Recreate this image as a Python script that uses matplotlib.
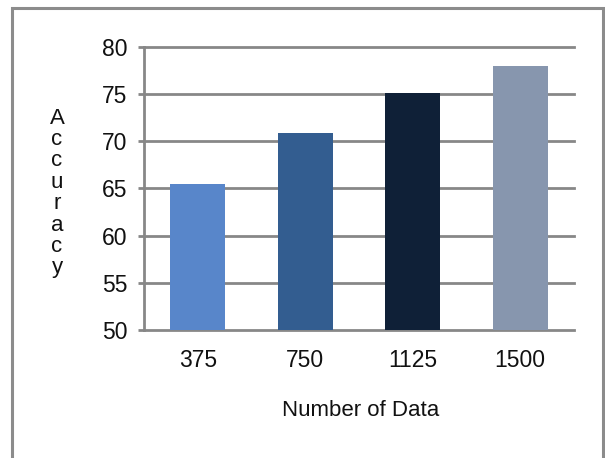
import matplotlib
matplotlib.use("Agg")
import matplotlib.pyplot as plt
from matplotlib.patches import Rectangle

categories = ["375", "750", "1125", "1500"]
accuracy = [65.5, 70.9, 75.1, 78.0]
bar_colors = ["#5886CA", "#335D90", "#0F2037", "#8796AE"]
y_ticks = [50, 55, 60, 65, 70, 75, 80]
y_label = "Accuracy"
x_label = "Number of Data"

plt.rcParams["font.family"] = ["Liberation Sans", "DejaVu Sans"]
GRID = "#878787"

fig = plt.figure(figsize=(6.05, 4.58), dpi=100)
ax = fig.add_axes([144 / 605, 1 - 330 / 458, 430 / 605, (330 - 46.7) / 458])

x = range(len(categories))
ax.bar(x, [v - 50 for v in accuracy], bottom=50, width=0.51,
       color=bar_colors, zorder=3)

ax.set_xlim(-0.5, len(categories) - 0.5)
ax.set_ylim(50, 80)
ax.set_yticks(y_ticks)
ax.set_yticklabels([str(t) for t in y_ticks])
ax.set_xticks(list(x))
ax.set_xticklabels(categories)

for t in y_ticks:
    ax.axhline(t, color=GRID, lw=2.0, zorder=1, clip_on=False)

for side in ["top", "right", "bottom"]:
    ax.spines[side].set_visible(False)
ax.spines["left"].set_color(GRID)
ax.spines["left"].set_linewidth(2.0)

ax.tick_params(axis="y", length=4, width=2.0, color=GRID, pad=8,
               labelsize=16.5, labelcolor="#111111")
ax.tick_params(axis="x", length=0, pad=14, labelsize=16.5,
               labelcolor="#111111")

# vertical stacked axis title
n = len(y_label)
y_top, y_bot = 118, 268
for i, ch in enumerate(y_label):
    yp = y_top + (y_bot - y_top) * i / (n - 1)
    fig.text(57 / 605, 1 - yp / 458, ch, ha="center", va="center",
             fontsize=16, color="#111111")

fig.text(361 / 605, 1 - 410 / 458, x_label, ha="center", va="center",
         fontsize=16, color="#111111")

fig.patches.append(Rectangle((12 / 605, -0.05), (603 - 12) / 605,
                             1.05 - 8 / 458, transform=fig.transFigure,
                             fill=False, edgecolor="#8C8C8C", lw=2.2))

fig.savefig("out.png", dpi=100, facecolor="white")
